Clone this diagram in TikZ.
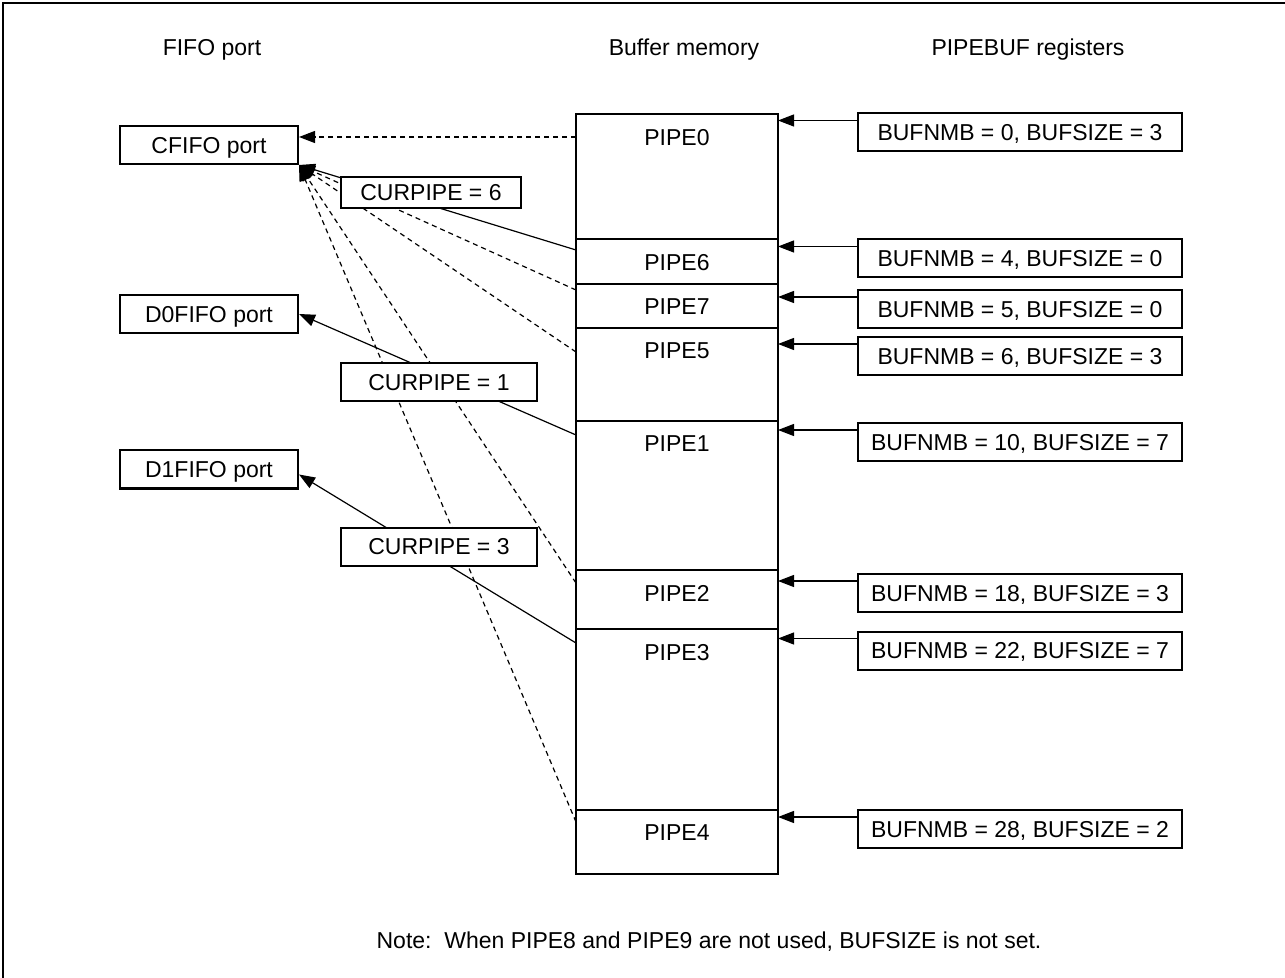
\documentclass[tikz,border=0pt]{standalone}
\usepackage{fontspec}
\setmainfont{Liberation Sans}
\usetikzlibrary{arrows.meta, positioning}

\begin{document}
\begin{tikzpicture}[
    x=0.5pt, y=-0.5pt,
    font=\fontsize{11.5}{13.5}\selectfont,
    port/.style={rectangle, draw, line width=1pt, minimum width=89pt,
                 minimum height=19pt, inner sep=0pt, text depth=0pt},
    seg/.style={rectangle, draw, line width=1pt, minimum width=101pt,
                anchor=north, inner sep=0pt, outer sep=0pt},
    plbl/.style={anchor=north, yshift=-4pt},
    reg/.style={rectangle, draw, line width=1pt, minimum width=162pt,
                minimum height=19pt, inner sep=0pt, text depth=0pt},
    cur/.style={rectangle, draw, line width=1pt, fill=white, inner sep=0pt,
                text depth=0pt},
    arr/.style={-{Triangle[length=8pt, width=6pt]}, line width=0.6pt},
    darr/.style={arr, dash pattern=on 2.5pt off 2pt}
]
    \useasboundingbox (0,0) rectangle (1285,978);
    \draw[line width=1.2pt] (3,978) -- (3,3) -- (1285,3);

    % column headings
    \node (hfifo) at (212,50) {FIFO port};
    \node (hbuf) at (684,50) {Buffer memory};
    \node (hreg) at (1028,50) {PIPEBUF registers};

    % buffer memory
    \node[seg, minimum height=62.5pt, label={[plbl]north:PIPE0}] (pipe0) at (677,114) {};
    \node[seg, minimum height=22.5pt, label={[plbl]north:PIPE6}, below=0pt of pipe0] (pipe6) {};
    \node[seg, minimum height=22pt, label={[plbl]north:PIPE7}, below=0pt of pipe6] (pipe7) {};
    \node[seg, minimum height=46.5pt, label={[plbl]north:PIPE5}, below=0pt of pipe7] (pipe5) {};
    \node[seg, minimum height=74.5pt, label={[plbl]north:PIPE1}, below=0pt of pipe5] (pipe1) {};
    \node[seg, minimum height=29.5pt, label={[plbl]north:PIPE2}, below=0pt of pipe1] (pipe2) {};
    \node[seg, minimum height=90.5pt, label={[plbl]north:PIPE3}, below=0pt of pipe2] (pipe3) {};
    \node[seg, minimum height=32pt, label={[plbl]north:PIPE4}, below=0pt of pipe3] (pipe4) {};

    % FIFO ports
    \node[port] (cfifo) at (209,145) {CFIFO port};
    \node[port] (d0fifo) at (209,314) {D0FIFO port};
    \node[port] (d1fifo) at (209,469.5) {D1FIFO port};

    % PIPEBUF registers
    \node[reg] (reg0) at (1020,132.5) {BUFNMB = 0, BUFSIZE = 3};
    \node[reg] (reg6) at (1020,258.5) {BUFNMB = 4, BUFSIZE = 0};
    \node[reg] (reg7) at (1020,309) {BUFNMB = 5, BUFSIZE = 0};
    \node[reg] (reg5) at (1020,356) {BUFNMB = 6, BUFSIZE = 3};
    \node[reg] (reg1) at (1020,442) {BUFNMB = 10, BUFSIZE = 7};
    \node[reg] (reg2) at (1020,593) {BUFNMB = 18, BUFSIZE = 3};
    \node[reg] (reg3) at (1020,650.5) {BUFNMB = 22, BUFSIZE = 7};
    \node[reg] (reg4) at (1020,829) {BUFNMB = 28, BUFSIZE = 2};

    \foreach \r/\p in {reg0/pipe0, reg6/pipe6, reg7/pipe7, reg5/pipe5,
                       reg1/pipe1, reg2/pipe2, reg3/pipe3, reg4/pipe4}{
        \coordinate (t) at ([yshift=-4pt]\r.north west);
        \draw[arr] (t) -- (t -| \p.east);
    }

    % pipes to ports
    \coordinate (c0) at ([yshift=4pt]cfifo.east);
    \draw[darr] (pipe0.west |- c0) -- (c0);
    \draw[arr] ([yshift=-5.5pt]pipe6.north west) -- (cfifo.south east);
    \draw[darr] ([yshift=-3pt]pipe7.north west) -- (cfifo.south east);
    \draw[darr] ([yshift=-12pt]pipe5.north west) -- (cfifo.south east);
    \draw[darr] ([yshift=-6.5pt]pipe2.north west) -- (cfifo.south east);
    \draw[darr] ([yshift=-6pt]pipe4.north west) -- (cfifo.south east);
    \draw[arr] ([yshift=-7pt]pipe1.north west) -- (d0fifo.east);
    \draw[arr] ([yshift=-7pt]pipe3.north west) -- ([yshift=-2.5pt]d1fifo.east);

    % CURPIPE settings
    \node[cur, minimum width=90pt, minimum height=15.5pt] (cur6) at (431,192.5) {CURPIPE = 6};
    \node[cur, minimum width=98pt, minimum height=19pt] (cur1) at (439,382) {CURPIPE = 1};
    \node[cur, minimum width=98pt, minimum height=19pt] (cur3) at (439,546.5) {CURPIPE = 3};

    \node (note) at (709,942) {Note:\ \ When PIPE8 and PIPE9 are not used, BUFSIZE is not set.};
\end{tikzpicture}
\end{document}
